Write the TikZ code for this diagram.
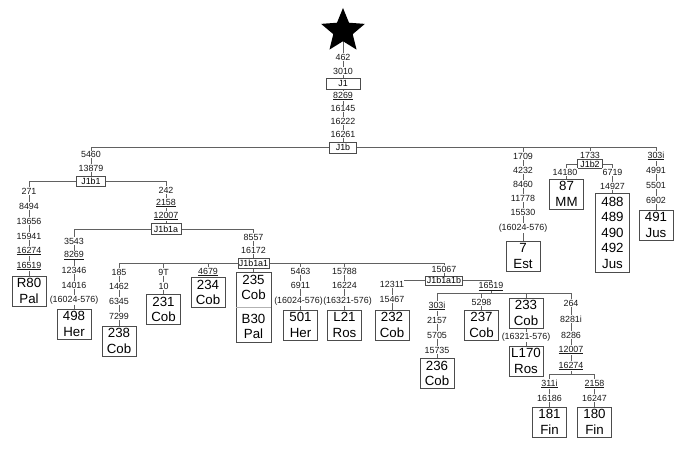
\documentclass[tikz,border=0pt]{standalone}
\usepackage{fontspec}
\setmainfont{Liberation Sans}
\usetikzlibrary{shapes.geometric,backgrounds}
\begin{document}
\begin{tikzpicture}[x=1pt,y=-1pt,
  conn/.style={draw=black!62, line width=0.6pt},
  lab/.style={fill=white, inner xsep=0.3pt, inner ysep=0.6pt, text=black!90, font=\fontsize{8.9}{10}\selectfont},
  jbox/.style={draw=black!70, line width=0.7pt, fill=white, inner sep=0pt, font=\fontsize{8.9}{10}\selectfont, minimum height=10pt},
  bigbox/.style={draw=black!70, line width=0.8pt, fill=white, inner sep=0pt, minimum width=34pt, minimum height=30pt, align=center, font=\fontsize{13.3}{15.5}\selectfont},
  bigtext/.style={inner sep=0pt, align=center, font=\fontsize{13.3}{15.5}\selectfont},
  divider/.style={draw=black!30, line width=0.5pt}
]
\useasboundingbox (0,0) rectangle (685,449);

% root and trunk
\node[star, star points=5, star point ratio=2.25, fill=black, minimum size=46pt, inner sep=0pt] (root) at (343,31) {};
\node[lab] (t462) at (343,57) {462};
\node[lab] (t3010) at (343,71) {3010};
\node[jbox, minimum width=34pt, minimum height=11pt] (J1) at (343,83.5) {J1};
\node[lab] (t8269) at (343,96) {\underline{8269}};
\node[lab] (t16145) at (343,108.5) {16145};
\node[lab] (t16222) at (343,121) {16222};
\node[lab] (t16261) at (343,134) {16261};
\node[jbox, minimum width=27pt, minimum height=11pt] (J1b) at (343,147.5) {J1b};

% J1b1
\node[lab] (a5460) at (91,154.5) {5460};
\node[lab] (a13879) at (91,168) {13879};
\node[jbox, minimum width=29pt] (J1b1) at (91,181) {J1b1};

% R80 column
\node[lab] (b271) at (29,191) {271};
\node[lab] (b8494) at (29,206) {8494};
\node[lab] (b13656) at (29,221) {13656};
\node[lab] (b15941) at (29,236) {15941};
\node[lab] (b16274) at (29,251) {\underline{16274}};
\node[lab] (b16519) at (29,266) {\underline{16519}};
\node[bigbox] (r80) at (29,291) {R80\\Pal};

% J1b1a
\node[lab] (c242) at (166,190) {242};
\node[lab] (c2158) at (166,203) {\underline{2158}};
\node[lab] (c12007) at (166,216) {\underline{12007}};
\node[jbox, minimum width=30pt, minimum height=11pt] (J1b1a) at (166,229) {J1b1a};

% 498 column
\node[lab] (d3543) at (74,241) {3543};
\node[lab] (d8269) at (74,255.5) {\underline{8269}};
\node[lab] (d12346) at (74,270) {12346};
\node[lab] (d14016) at (74,285) {14016};
\node[lab] (d16024) at (74,300) {(16024-576)};
\node[bigbox] (her498) at (74,324) {498\\Her};

% J1b1a1
\node[lab] (e8557) at (253.5,237) {8557};
\node[lab] (e16172) at (253.5,250) {16172};
\node[jbox, minimum width=31pt] (J1b1a1) at (253.5,263) {J1b1a1};

% 238 column
\node[lab] (f185) at (119,272) {185};
\node[lab] (f1462) at (119,286) {1462};
\node[lab] (f6345) at (119,301) {6345};
\node[lab] (f7299) at (119,316) {7299};
\node[bigbox] (cob238) at (119,341) {238\\Cob};

% 231 column
\node[lab] (g9T) at (163.5,272) {9T};
\node[lab] (g10) at (163.5,286) {10};
\node[bigbox] (cob231) at (163.5,309.5) {231\\Cob};

% 234 column
\node[lab] (h4679) at (208,272) {\underline{4679}};
\node[bigbox] (cob234) at (208,292.5) {234\\Cob};

% 235 / B30 box
\node[bigbox, minimum width=35pt, minimum height=70pt] (box235) at (253.5,307) {};
\node[bigtext] (t235) at (253.5,287.5) {235\\Cob};
\node[bigtext] (tb30) at (253.5,326.5) {B30\\Pal};

% 501 column
\node[lab] (i5463) at (300.5,271) {5463};
\node[lab] (i6911) at (300.5,285) {6911};
\node[lab] (i16024) at (298.5,301) {(16024-576)};
\node[bigbox] (her501) at (300.5,325) {501\\Her};

% L21 column
\node[lab] (k15788) at (344.5,271) {15788};
\node[lab] (k16224) at (344.5,285) {16224};
\node[lab] (k16321) at (347.5,301) {(16321-576)};
\node[bigbox] (ros21) at (344.5,325) {L21\\Ros};

% J1b1a1b
\node[lab] (m15067) at (444,269) {15067};
\node[jbox, minimum width=37pt, minimum height=9pt] (J1b1a1b) at (444,280.5) {J1b1a1b};

% 232 column
\node[lab] (n12311) at (392,284) {12311};
\node[lab] (n15467) at (392,299) {15467};
\node[bigbox] (cob232) at (392,325) {232\\Cob};

% 16519 junction
\node[lab] (p16519) at (491,286.5) {\underline{16519}};
\coordinate (j16519) at (491,293.5);

% 236 column
\node[lab] (q303i) at (437,306) {\underline{303i}};
\node[lab] (q2157) at (437,320) {2157};
\node[lab] (q5705) at (437,335) {5705};
\node[lab] (q15735) at (437,350) {15735};
\node[bigbox] (cob236) at (437,373.5) {236\\Cob};

% 237 column
\node[lab] (r5298) at (481.5,302) {5298};
\node[bigbox] (cob237) at (481.5,325) {237\\Cob};

% 233 column
\node[bigbox] (cob233) at (526,313) {233\\Cob};
\node[lab] (s16321) at (526,337) {(16321-576)};
\node[bigbox] (ros170) at (526,361) {L170\\Ros};

% 264 column
\node[lab] (u264) at (571,303) {264};
\node[lab] (u8281) at (571,319) {8281i};
\node[lab] (u8286) at (571,335) {8286};
\node[lab] (u12007) at (571,350) {\underline{12007}};
\node[lab] (u16274) at (571,366) {\underline{16274}};
\coordinate (j264) at (571,374);

% 181 / 180
\node[lab] (v311i) at (549.5,384) {\underline{311i}};
\node[lab] (v16186) at (549.5,398) {16186};
\node[bigbox] (fin181) at (549.5,422) {181\\Fin};
\node[lab] (w2158) at (594.5,384) {\underline{2158}};
\node[lab] (w16247) at (594.5,398) {16247};
\node[bigbox] (fin180) at (594.5,422) {180\\Fin};

% 7 Est column
\node[lab] (x1709) at (523,156) {1709};
\node[lab] (x4232) at (523,170) {4232};
\node[lab] (x8460) at (523,184) {8460};
\node[lab] (x11778) at (523,198) {11778};
\node[lab] (x15530) at (523,212) {15530};
\node[lab] (x16024) at (523,228) {(16024-576)};
\node[bigbox] (est7) at (523,256) {7\\Est};

% J1b2
\node[lab] (y1733) at (590,155) {1733};
\node[jbox, minimum width=25pt, minimum height=9pt] (J1b2) at (590,164) {J1b2};
\node[lab] (y14180) at (565,172) {14180};
\node[bigbox] (mm87) at (566.5,194) {87\\MM};
\node[lab] (y6719) at (612.5,172) {6719};
\node[lab] (y14927) at (612.5,186) {14927};
\node[bigbox, minimum height=79pt] (jus488) at (612.5,232.5) {488\\489\\490\\492\\Jus};

% 491 column
\node[lab] (z303i) at (656,156) {\underline{303i}};
\node[lab] (z4991) at (656,170) {4991};
\node[lab] (z5501) at (656,185) {5501};
\node[lab] (z6902) at (656,200) {6902};
\node[bigbox] (jus491) at (656,225) {491\\Jus};

\draw[divider] (box235.west) -- (box235.east);

\begin{scope}[on background layer]
\draw[conn] (root.center) -- (J1b.center);
\draw[conn] (J1b.center) -| (J1b1.center);
\draw[conn] (J1b.center) -| (est7.center);
\draw[conn] (J1b.center) -| (J1b2.center);
\draw[conn] (J1b.center) -| (jus491.center);
\draw[conn] (J1b1.center) -| (r80.center);
\draw[conn] (J1b1.center) -| (J1b1a.center);
\draw[conn] (J1b1a.center) -| (her498.center);
\draw[conn] (J1b1a.center) -| (J1b1a1.center);
\draw[conn] (J1b1a1.center) -| (cob238.center);
\draw[conn] (J1b1a1.center) -| (cob231.center);
\draw[conn] (J1b1a1.center) -| (cob234.center);
\draw[conn] (J1b1a1.center) -- (box235.center);
\draw[conn] (J1b1a1.center) -| (her501.center);
\draw[conn] (J1b1a1.center) -| (ros21.center);
\draw[conn] (J1b1a1.center) -| (J1b1a1b.center);
\draw[conn] (J1b1a1b.center) -| (cob232.center);
\draw[conn] (J1b1a1b.center) -| (j16519);
\draw[conn] (j16519) -| (cob236.center);
\draw[conn] (j16519) -| (cob237.center);
\draw[conn] (j16519) -| (cob233.center);
\draw[conn] (j16519) -| (j264);
\draw[conn] (cob233.center) -- (ros170.center);
\draw[conn] (j264) -| (fin181.center);
\draw[conn] (j264) -| (fin180.center);
\draw[conn] (J1b2.center) -| (mm87.center);
\draw[conn] (J1b2.center) -| (jus488.center);
\end{scope}
\end{tikzpicture}
\end{document}
